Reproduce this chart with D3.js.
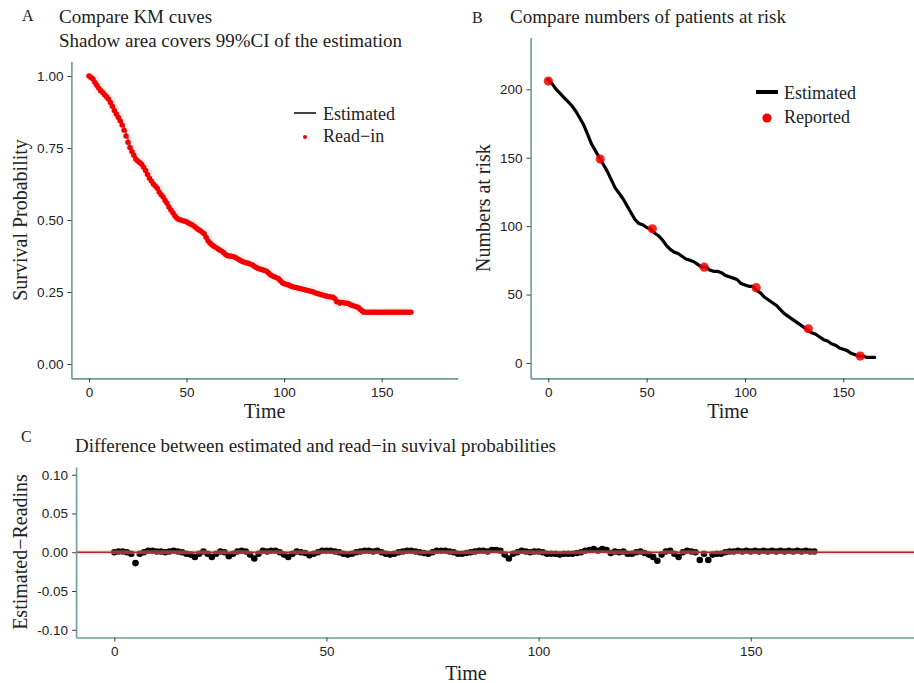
<!DOCTYPE html>
<html>
<head>
<meta charset="utf-8">
<script src="https://cdnjs.cloudflare.com/ajax/libs/d3/7.8.5/d3.min.js"></script>
<style>
  body { margin: 0; background: #fff; }
  svg text { font-family: "Liberation Serif", "Times New Roman", serif; fill: #222; }
  .tick text { font-family: "Liberation Sans", Arial, sans-serif; }
</style>
</head>
<body>
<svg id="chart" width="914" height="683"></svg>
<script>
// ---- data ----
// A: read-in KM points (time, survival)
const readTime = [
  0,1,2,3,4,5,6,7,8,9,10,11,12,13,14,15,16,17,18,19,20,21,22,23,24,25,26,27,28,29,
  30,31,32,33,34,35,36,37,38,39,40,41,42,43,44,45,46,47,48,49,50,51,52,53,54,55,56,57,58,59,
  60,61,62,63,64,65,66,67,68,69,70,71,72,73,74,75,76,77,78,79,80,81,82,83,84,85,86,87,88,89,
  90,91,92,93,94,95,96,97,98,99,100,101,102,103,104,105,106,107,108,109,110,111,112,113,114,115,116,117,118,119,
  120,121,122,123,124,125,126,127,128,129,130,131,132,133,134,135,136,137,138,139,140,141,142,143,144,145,146,147,148,149,
  150,151,152,153,154,155,156,157,158,159,160,161,162,163,164,165];
const readSurv = [
  1.000,0.995,0.990,0.978,0.968,0.958,0.950,0.943,0.935,0.928,
  0.920,0.908,0.895,0.880,0.868,0.857,0.845,0.830,0.812,0.792,
  0.770,0.752,0.738,0.725,0.712,0.705,0.700,0.694,0.683,0.672,
  0.658,0.645,0.635,0.625,0.618,0.610,0.597,0.588,0.580,0.568,
  0.558,0.545,0.535,0.525,0.515,0.507,0.502,0.500,0.498,0.496,
  0.494,0.490,0.486,0.483,0.478,0.472,0.467,0.463,0.458,0.452,
  0.440,0.428,0.420,0.414,0.409,0.405,0.400,0.396,0.392,0.387,
  0.380,0.376,0.375,0.374,0.373,0.370,0.366,0.362,0.358,0.355,
  0.353,0.351,0.349,0.346,0.343,0.338,0.334,0.331,0.329,0.327,
  0.325,0.322,0.316,0.310,0.306,0.303,0.300,0.297,0.290,0.283,
  0.279,0.277,0.275,0.272,0.269,0.267,0.266,0.264,0.262,0.261,
  0.259,0.257,0.255,0.254,0.252,0.250,0.247,0.245,0.243,0.241,
  0.239,0.237,0.235,0.234,0.233,0.232,0.227,0.216,0.215,0.214,
  0.213,0.212,0.211,0.210,0.206,0.203,0.201,0.199,0.196,0.190,
  0.184,0.181,0.180,0.180,0.180,0.180,0.180,0.180,0.180,0.180,
  0.180,0.180,0.180,0.180,0.180,0.180,0.180,0.180,0.180,0.180,
  0.180,0.180,0.180,0.180,0.180,0.180];
// C: estimated - read-in, at the read-in times
const diffs = [
  0.000,0.001,0.001,0.000,-0.002,-0.014,-0.002,0.000,0.002,0.002,
  0.001,0.001,0.000,0.001,0.002,0.001,0.000,-0.002,-0.003,-0.006,
  -0.002,0.001,-0.002,-0.006,-0.002,0.001,0.000,-0.005,-0.002,0.001,
  0.002,0.001,-0.003,-0.008,-0.002,0.002,0.001,0.002,0.002,0.000,
  -0.003,-0.006,-0.002,0.001,0.000,-0.001,-0.004,-0.002,0.000,0.002,
  0.002,0.002,0.001,0.000,-0.002,-0.003,-0.002,0.000,0.001,0.002,
  0.002,0.001,0.002,0.000,-0.002,-0.003,-0.002,0.000,0.001,0.002,
  0.002,0.001,0.000,-0.001,-0.002,0.000,0.002,0.002,0.002,0.001,
  0.000,-0.002,-0.002,-0.001,0.000,0.001,0.002,0.002,0.001,0.003,
  0.003,0.002,-0.003,-0.008,-0.002,0.000,0.002,0.001,0.000,0.001,
  0.001,0.000,-0.002,-0.002,-0.002,-0.003,-0.002,-0.002,-0.002,-0.001,
  0.000,0.002,0.003,0.004,0.002,0.004,0.003,-0.001,0.001,0.000,
  0.001,-0.002,-0.002,0.000,0.001,-0.001,-0.003,-0.006,-0.011,-0.003,
  0.001,0.002,-0.002,-0.006,0.000,0.002,0.001,0.000,-0.010,-0.002,
  -0.010,-0.003,-0.002,-0.002,0.000,0.001,0.001,0.002,0.001,0.002,
  0.001,0.002,0.001,0.002,0.001,0.002,0.001,0.002,0.001,0.002,
  0.001,0.002,0.001,0.002,0.001,0.001];
// B: estimated numbers at risk
const riskTime = [
  0,2,4,6,8,10,12,14,16,18,20,22,24,26,28,30,32,34,36,38,40,42,44,46,48,50,
  52,54,56,58,60,62,64,66,68,70,72,74,76,78,80,82,84,86,88,90,92,94,96,98,100,
  102,104,106,108,110,112,114,116,118,120,122,124,126,128,130,132,134,136,138,140,
  142,144,146,148,150,152,154,156,158,160,162,164,166];
const riskEst = [
  207,204,200,197,194,191,188,184,179,174,167,160,155,150,145,140,134,128,124,120,115,110,105,102,101,99,
  98,95,93,90,86,83,81,80,78,76,75,74,72,70,70,68,67,67,66,64,63,62,61,58,57,
  56,56,53,51,48,46,44,42,39,36,34,32,30,28,26,24,22,21,19,17,
  16,14,13,11,10,9,7,6,5,5,4,4,4];
// B: reported numbers at risk
const repTime = [0, 26.4, 52.9, 79.3, 105.7, 132.2, 158.6];
const repRisk = [206, 149, 98, 70, 55, 25, 5];

const xTicks = [0, 50, 100, 150];

// ---- drawing ----
const svg = d3.select("#chart");
const axisCol = "#6f9d9d";
const yLabCol = "#7b7b7b";
const xLabCol = "#8fb0b0";
const fmt2 = (d) => d3.format(".2f")(d).replace("\u2212", "-");

const styleAxis = (g, labCol) => {
  g.select(".domain").attr("stroke", axisCol).attr("stroke-width", 1.6);
  g.selectAll(".tick line").attr("stroke", "#3a3a3a");
  g.selectAll(".tick text").attr("fill", labCol).style("font-size", "13.5px");
};

const drawAxes = (x, y, yTicks, yFmt) => {
  const [y0] = y.range();
  const [x0] = x.range();
  svg.append("g").attr("transform", `translate(0,${y0})`)
    .call(d3.axisBottom(x).tickValues(xTicks).tickSize(4).tickSizeOuter(0).tickPadding(5))
    .call(g => styleAxis(g, xLabCol));
  svg.append("g").attr("transform", `translate(${x0},0)`)
    .call(d3.axisLeft(y).tickValues(yTicks).tickFormat(yFmt).tickSize(4).tickSizeOuter(0).tickPadding(4))
    .call(g => styleAxis(g, yLabCol));
};

const addText = (x, y, txt, size, opts = {}) => {
  const t = svg.append("text").attr("x", x).attr("y", y).text(txt)
    .style("font-size", size + "px");
  if (opts.anchor) t.attr("text-anchor", opts.anchor);
  if (opts.rotate) t.attr("transform", `rotate(-90,${x},${y})`);
  return t;
};

// ----- Panel A -----
const xA = d3.scaleLinear().domain([-9, 189]).range([71.4, 457.8]);
const yA = d3.scaleLinear().domain([-0.05, 1.05]).range([378.4, 61.6]);
// estimated = read-in + difference shown in panel C
const ptsA = readTime.map((t, i) => ({ t, s: readSurv[i], est: readSurv[i] + diffs[i] }));

const lineA = d3.line().x(d => xA(d.t)).y(d => yA(d.est)).curve(d3.curveStepAfter);
// 99% CI shadow (very narrow)
svg.append("path").datum(ptsA).attr("d", lineA)
  .attr("fill", "none").attr("stroke", "#f6c4c4").attr("stroke-width", 8)
  .attr("stroke-opacity", 0.3).attr("stroke-linejoin", "round");
svg.append("path").datum(ptsA).attr("d", lineA)
  .attr("fill", "none").attr("stroke", "#444").attr("stroke-width", 1.2);
svg.append("g").selectAll("circle").data(ptsA).join("circle")
  .attr("cx", d => xA(d.t)).attr("cy", d => yA(d.s)).attr("r", 2.7).attr("fill", "#f20000");

drawAxes(xA, yA, [0, 0.25, 0.5, 0.75, 1], fmt2);

addText(22, 21, "A", 16);
addText(59, 23, "Compare KM cuves", 19);
addText(59, 47, "Shadow area covers 99%CI of the estimation", 19);
addText(264.6, 418, "Time", 20, { anchor: "middle" });
addText(27, 220, "Survival Probability", 20, { anchor: "middle", rotate: true });

// legend A
svg.append("line").attr("x1", 294).attr("x2", 316).attr("y1", 113).attr("y2", 113)
  .attr("stroke", "#444").attr("stroke-width", 2);
svg.append("circle").attr("cx", 305).attr("cy", 137).attr("r", 2).attr("fill", "#f20000");
addText(323, 119.5, "Estimated", 18);
addText(323, 142, "Read\u2212in", 18);

// ----- Panel B -----
const xB = d3.scaleLinear().domain([-9, 189]).range([530.6, 920]);
const yB = d3.scaleLinear().domain([-11.3, 237.8]).range([378.4, 37.6]);
const ptsB = riskTime.map((t, i) => ({ t, n: riskEst[i] }));
const repB = repTime.map((t, i) => ({ t, n: repRisk[i] }));

svg.append("path").datum(ptsB)
  .attr("d", d3.line().x(d => xB(d.t)).y(d => yB(d.n)))
  .attr("fill", "none").attr("stroke", "#000").attr("stroke-width", 3.2)
  .attr("stroke-linejoin", "round").attr("stroke-linecap", "round");
svg.append("g").selectAll("circle").data(repB).join("circle")
  .attr("cx", d => xB(d.t)).attr("cy", d => yB(d.n)).attr("r", 4.6)
  .attr("fill", "#f20000").attr("fill-opacity", 0.85);

drawAxes(xB, yB, [0, 50, 100, 150, 200], d3.format("d"));

addText(472, 23, "B", 16);
addText(510, 23, "Compare numbers of patients at risk", 19);
addText(728, 418, "Time", 20, { anchor: "middle" });
addText(490, 208, "Numbers at risk", 20, { anchor: "middle", rotate: true });

// legend B
svg.append("line").attr("x1", 756).attr("x2", 778).attr("y1", 92).attr("y2", 92)
  .attr("stroke", "#000").attr("stroke-width", 4);
svg.append("circle").attr("cx", 767).attr("cy", 118).attr("r", 4.6).attr("fill", "#f20000");
addText(784, 99, "Estimated", 18);
addText(784, 123, "Reported", 18);

// ----- Panel C -----
const xC = d3.scaleLinear().domain([-9, 189]).range([76.1, 916.2]);
const yC = d3.scaleLinear().domain([-0.11, 0.11]).range([637.5, 467]);
const ptsC = readTime.map((t, i) => ({ t, d: diffs[i] }));

svg.append("g").selectAll("circle").data(ptsC).join("circle")
  .attr("cx", d => xC(d.t)).attr("cy", d => yC(d.d)).attr("r", 3.3).attr("fill", "#000");
svg.append("line").attr("x1", xC.range()[0]).attr("x2", xC.range()[1])
  .attr("y1", yC(0)).attr("y2", yC(0))
  .attr("stroke", "#f0a0a0").attr("stroke-width", 4).attr("stroke-opacity", 0.45);
svg.append("line").attr("x1", xC.range()[0]).attr("x2", xC.range()[1])
  .attr("y1", yC(0)).attr("y2", yC(0))
  .attr("stroke", "#a83030").attr("stroke-width", 1.4);

drawAxes(xC, yC, [-0.1, -0.05, 0, 0.05, 0.1], fmt2);

addText(21, 442, "C", 16);
addText(75, 452, "Difference between estimated and read\u2212in suvival probabilities", 19);
addText(466, 680, "Time", 20, { anchor: "middle" });
addText(27, 552, "Estimated\u2212Readins", 20, { anchor: "middle", rotate: true });
</script>
</body>
</html>
